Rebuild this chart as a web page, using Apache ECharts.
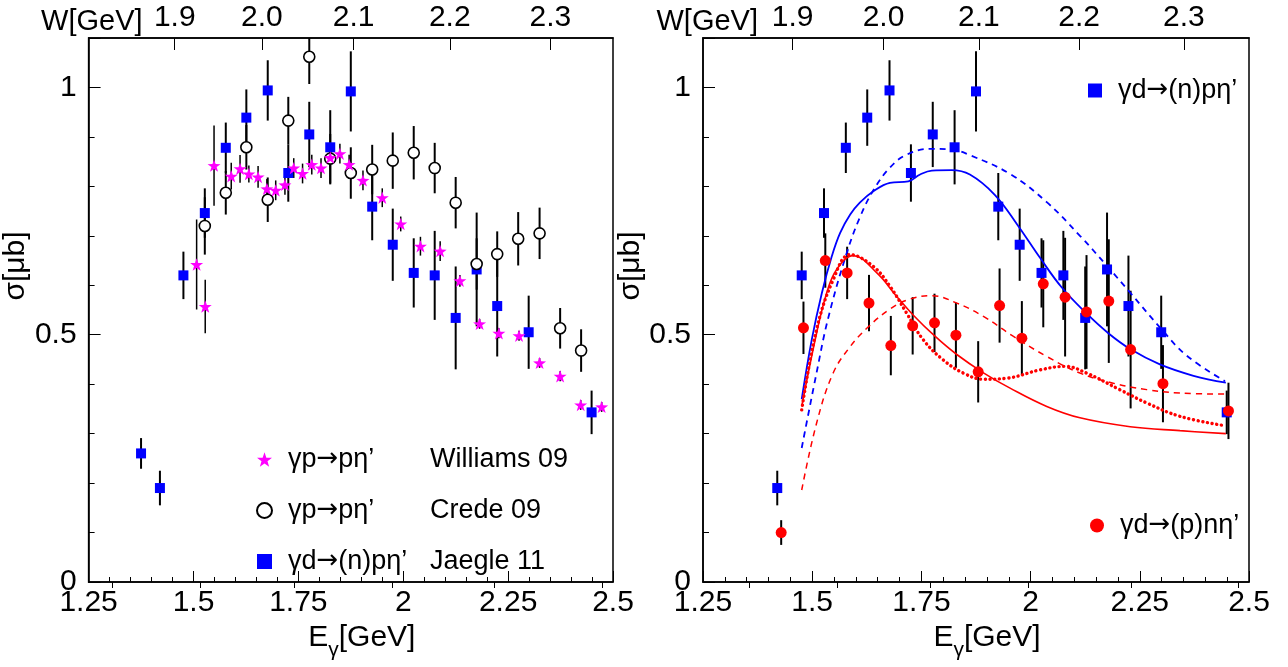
<!DOCTYPE html>
<html><head><meta charset="utf-8">
<script src="https://cdn.jsdelivr.net/npm/echarts@6/dist/echarts.min.js"></script>
<style>html,body{margin:0;padding:0;background:#fff}#c{width:1288px;height:667px}</style>
</head><body><div id="c"></div>
<script>
// proton mass (GeV) used to convert photon energy E to W for the top axis
const MP = 0.938;
// top axis tick values in W (GeV)
const wMajor = [1.9, 2.0, 2.1, 2.2, 2.3];
const wMinor = [1.85, 1.95, 2.05, 2.15, 2.25, 2.35];

// Williams 09  (gamma p -> p eta')
const williamsE = [1.5075,1.528,1.549,1.590,1.611,1.632,1.654,1.675,1.696,1.718,1.739,1.760,1.782,1.804,1.826,1.849,1.871,1.904,1.950,1.994,2.041,2.088,2.135,2.182,2.228,2.276,2.325,2.374,2.423,2.473];
const williamsS = [0.642,0.557,0.842,0.8205,0.8355,0.825,0.819,0.795,0.792,0.803,0.837,0.826,0.844,0.837,0.858,0.866,0.844,0.812,0.777,0.724,0.679,0.669,0.609,0.522,0.503,0.498,0.443,0.416,0.358,0.354];
const williamsErr = [0.091,0.054,0.081,0.027,0.028,0.017,0.022,0.02,0.02,0.02,0.02,0.02,0.02,0.02,0.02,0.02,0.02,0.02,0.019,0.015,0.019,0.02,0.012,0.01,0.01,0.01,0.01,0.01,0.01,0.01];

// Crede 09 (gamma p -> p eta')
const credeE = [1.527,1.577,1.626,1.677,1.726,1.776,1.826,1.875,1.926,1.975,2.025,2.075,2.125,2.175,2.224,2.274,2.325,2.374,2.424];
const credeS = [0.720,0.787,0.879,0.773,0.933,1.062,0.856,0.827,0.834,0.852,0.868,0.837,0.767,0.643,0.663,0.694,0.705,0.513,0.468];
const credeErr = [0.058,0.044,0.045,0.045,0.048,0.055,0.05,0.052,0.05,0.057,0.054,0.051,0.052,0.052,0.046,0.054,0.052,0.041,0.043];

// Jaegle 11 (gamma d -> (n) p eta')
const jaegleE = [1.375,1.42,1.476,1.527,1.577,1.626,1.677,1.726,1.776,1.826,1.875,1.926,1.975,2.025,2.075,2.125,2.175,2.224,2.299,2.449];
const jaegleS = [0.26,0.19,0.620,0.746,0.878,0.939,0.994,0.827,0.905,0.879,0.992,0.759,0.682,0.625,0.620,0.534,0.632,0.558,0.505,0.343];
const jaegleErr = [0.031,0.035,0.048,0.050,0.051,0.057,0.061,0.058,0.066,0.075,0.081,0.068,0.073,0.070,0.090,0.104,0.115,0.102,0.074,0.044];

// gamma d -> (p) n eta'
const neutronE = [1.429,1.480,1.530,1.580,1.630,1.680,1.730,1.780,1.829,1.880,1.929,1.980,2.029,2.079,2.128,2.179,2.229,2.303,2.453];
const neutronS = [0.100,0.514,0.650,0.625,0.564,0.478,0.518,0.524,0.499,0.425,0.559,0.493,0.603,0.576,0.546,0.568,0.470,0.401,0.346];
const neutronErr = [0.025,0.053,0.055,0.053,0.057,0.060,0.058,0.059,0.066,0.062,0.075,0.075,0.088,0.120,0.115,0.125,0.119,0.078,0.057];

// model curves (right panel)
const blueSolidE = [1.476,1.499,1.522,1.545,1.564,1.587,1.609,1.640,1.678,1.720,1.747,1.774,1.819,1.861,1.918,1.970,2.022,2.071,2.128,2.178,2.228,2.296,2.373,2.447];
const blueSolidS = [0.370,0.490,0.584,0.659,0.706,0.743,0.767,0.790,0.807,0.810,0.824,0.832,0.833,0.824,0.783,0.722,0.655,0.596,0.543,0.503,0.471,0.440,0.417,0.403];
const blueDashE = [1.476,1.510,1.537,1.579,1.609,1.640,1.678,1.716,1.770,1.815,1.861,1.953,2.037,2.113,2.174,2.228,2.296,2.357,2.445];
const blueDashS = [0.271,0.423,0.535,0.665,0.737,0.792,0.838,0.864,0.876,0.875,0.863,0.825,0.768,0.700,0.640,0.585,0.515,0.458,0.406];
const redSolidE = [1.476,1.510,1.533,1.556,1.594,1.648,1.693,1.731,1.781,1.831,1.892,1.953,2.037,2.113,2.228,2.342,2.447];
const redSolidS = [0.355,0.503,0.584,0.632,0.660,0.625,0.578,0.540,0.497,0.460,0.423,0.392,0.355,0.332,0.314,0.306,0.300];
const redDotE = [1.476,1.510,1.548,1.587,1.640,1.678,1.716,1.754,1.800,1.846,1.892,1.945,2.022,2.079,2.128,2.204,2.266,2.342,2.445];
const redDotS = [0.348,0.510,0.611,0.662,0.638,0.598,0.544,0.490,0.449,0.4225,0.410,0.412,0.429,0.436,0.4225,0.389,0.362,0.335,0.316];
const redDashE = [1.476,1.510,1.548,1.587,1.625,1.678,1.724,1.774,1.831,1.892,1.960,2.037,2.113,2.189,2.266,2.342,2.447];
const redDashS = [0.186,0.321,0.4225,0.476,0.513,0.552,0.572,0.579,0.564,0.537,0.497,0.456,0.4225,0.402,0.389,0.382,0.380];

// legend texts
const leftLegendNames = ['Williams 09', 'Crede 09', 'Jaegle 11'];
const leftLegendReactions = ['γp→pη’', 'γp→pη’', 'γd→(n)pη’'];
const rightBlueName = 'γd→(n)pη’';
const rightRedName = 'γd→(p)nη’';

const FONT = 'Liberation Sans, Arial, Helvetica, sans-serif';
const ARROW_FONT = 'DejaVu Sans';
const LEG_SIZE = 27, ARROW_SIZE = 26, REACTION_COL = 142, LEG_PAD = 11;
const STAR = 'path://M0,-10 L2.35,-3.24 L9.51,-3.09 L3.8,1.24 L5.88,8.09 L0,4 L-5.88,8.09 L-3.8,1.24 L-9.51,-3.09 L-2.35,-3.24 Z';
const wToE = w => (w * w - MP * MP) / (2 * MP);
const eToW = e => Math.sqrt(MP * MP + 2 * MP * e);

// text measuring (to align the second legend column)
const mctx = document.createElement('canvas').getContext('2d');
function textW(t, size, fam) { mctx.font = size + 'px ' + fam; return mctx.measureText(t).width; }
function reactionWidth(s) {
  const parts = s.split('→');
  let w = 0;
  parts.forEach((p, i) => { w += textW(p, LEG_SIZE, FONT); if (i) w += textW('→', ARROW_SIZE, ARROW_FONT); });
  return w;
}
// reaction text as rich tokens: arrow drawn with DejaVu Sans (narrow, centred arrow)
const reactionRich = s => s.split('→').map((p, i) => (i ? '{r|→}' : '') + '{' + (i === 0 ? 'f' : 't') + '|' + p + '}').join('');

function errBars(xi, yi, E, S, Err, lw) {
  return {
    type: 'custom', xAxisIndex: xi, yAxisIndex: yi, silent: true, z: 2, clip: true,
    data: E.map((e, i) => [e, S[i], Err[i]]),
    encode: { x: 0, y: 1 },
    renderItem: (params, api) => {
      const x = api.value(0), y = api.value(1), er = api.value(2);
      const p1 = api.coord([x, y - er]);
      const p2 = api.coord([x, y + er]);
      return { type: 'line', shape: { x1: p1[0], y1: p1[1], x2: p2[0], y2: p2[1] },
        style: { stroke: '#000', lineWidth: lw } };
    }
  };
}
function points(name, xi, yi, E, S, symbol, size, itemStyle) {
  return { type: 'scatter', name, xAxisIndex: xi, yAxisIndex: yi, z: 4,
    symbol, symbolSize: size, symbolKeepAspect: true, itemStyle: Object.assign({ opacity: 1 }, itemStyle),
    emphasis: { disabled: true },
    data: E.map((e, i) => [e, S[i]]) };
}
function curve(E, S, color, type, width) {
  return { type: 'line', xAxisIndex: 2, yAxisIndex: 1, z: 3, showSymbol: false, silent: true,
    smooth: 0.4,
    lineStyle: { color, type, width, cap: 'butt' },
    data: E.map((e, i) => [e, S[i]]) };
}
function dotted(E, S, color) {
  const s = curve(E, S, color, [0.1, 4.6], 3.4);
  s.lineStyle.cap = 'round';
  return s;
}

const gridL = { left: 66, top: 38, width: 547, height: 544 };
const gridR = { left: 703, top: 38, width: 546, height: 544 };
function grid(g) { return Object.assign({ show: true, borderColor: '#000', borderWidth: 1.5, backgroundColor: 'transparent' }, g); }

function bottomAxis(gi) {
  return { type: 'value', gridIndex: gi, position: 'bottom', min: 1.25, max: 2.5, interval: 0.25,
    axisLine: { show: true, lineStyle: { color: '#000', width: 1.5 } },
    axisTick: { show: true, inside: true, length: 11, lineStyle: { color: '#000', width: 1 } },
    minorTick: { show: true, splitNumber: 5, length: 5, lineStyle: { color: '#000', width: 1 } },
    splitLine: { show: false },
    axisLabel: { color: '#000', fontSize: 30, fontFamily: FONT, margin: 6 },
    name: '{a|E}{s|γ}{a|[GeV]}', nameLocation: 'middle', nameGap: 34,
    nameTextStyle: { color: '#000', fontFamily: FONT, padding: [0, 0, 0, 22],
      rich: { a: { fontSize: 30, fontFamily: FONT, color: '#000', verticalAlign: 'top', lineHeight: 34 },
              s: { fontSize: 21, fontFamily: FONT, color: '#000', verticalAlign: 'top', lineHeight: 22, padding: [17, 0, 0, 0] } } } };
}
function topMajorAxis(gi, nameGap) {
  const vals = wMajor.map(wToE);
  return { type: 'value', gridIndex: gi, position: 'top', min: 1.25, max: 2.5,
    axisLine: { show: true, lineStyle: { color: '#000', width: 1.5 } },
    axisTick: { show: true, inside: true, length: 12, customValues: vals, lineStyle: { color: '#000', width: 1 } },
    splitLine: { show: false },
    axisLabel: { show: true, customValues: vals, color: '#000', fontSize: 30, fontFamily: FONT, margin: 5,
      formatter: v => eToW(v).toFixed(1) },
    name: 'W[GeV]', nameLocation: 'start', nameGap: nameGap,
    nameTextStyle: { color: '#000', fontSize: 29, fontFamily: FONT, align: 'right', verticalAlign: 'bottom', padding: [0, 0, 2, 0] } };
}
function topMinorAxis(gi) {
  const vals = wMinor.map(wToE);
  return { type: 'value', gridIndex: gi, position: 'top', min: 1.25, max: 2.5,
    axisLine: { show: false },
    axisTick: { show: true, inside: true, length: 6, customValues: vals, lineStyle: { color: '#000', width: 1 } },
    axisLabel: { show: false }, splitLine: { show: false } };
}
function leftAxis(gi) {
  return { type: 'value', gridIndex: gi, min: 0, max: 1.1, interval: 0.5,
    axisLine: { show: true, lineStyle: { color: '#000', width: 1.5 } },
    axisTick: { show: true, inside: true, length: 12, lineStyle: { color: '#000', width: 1 } },
    minorTick: { show: true, splitNumber: 5, length: 6, lineStyle: { color: '#000', width: 1 } },
    splitLine: { show: false },
    axisLabel: { color: '#000', fontSize: 30, fontFamily: FONT, margin: 12, showMaxLabel: false,
      formatter: v => (Math.abs(v * 2 - Math.round(v * 2)) < 1e-6 ? String(v) : '') },
    name: 'σ[μb]', nameLocation: 'middle', nameRotate: 90, nameGap: 30,
    nameTextStyle: { color: '#000', fontSize: 30, fontFamily: FONT, padding: [0, 0, 0, 88] } };
}
function hiddenY(gi) { return { type: 'value', gridIndex: gi, min: 0, max: 1.1, show: false }; }

const blue = '#0000ff', red = '#ff0000', magenta = '#ff00ff';
const legendText = { color: '#000', fontSize: LEG_SIZE, fontFamily: FONT };
const legendRich = {
  f: Object.assign({}, legendText, { padding: [0, 0, 0, LEG_PAD] }),
  t: Object.assign({}, legendText),
  r: Object.assign({}, legendText, { fontFamily: ARROW_FONT, fontSize: ARROW_SIZE }),
  b: Object.assign({}, legendText)
};
// spacer tokens so that the reference names start in a common column
const leftRich = Object.assign({}, legendRich);
leftLegendReactions.forEach((r, i) => {
  leftRich['c' + i] = { width: Math.max(1, REACTION_COL - reactionWidth(r)), fontSize: LEG_SIZE };
});

const option = {
  animation: false,
  backgroundColor: '#fff',
  grid: [grid(gridL), grid(gridR), grid(Object.assign({}, gridL, { show: false })), grid(Object.assign({}, gridR, { show: false }))],
  xAxis: [bottomAxis(0), topMajorAxis(0, -54), bottomAxis(1), topMajorAxis(1, -55), topMinorAxis(2), topMinorAxis(3)],
  yAxis: [leftAxis(0), leftAxis(1), hiddenY(2), hiddenY(3)],
  legend: [
    { orient: 'vertical', left: 251, top: 441, itemWidth: 15, itemHeight: 15, itemGap: 24,
      data: leftLegendNames, selectedMode: false,
      formatter: n => {
        const i = leftLegendNames.indexOf(n);
        return reactionRich(leftLegendReactions[i]) + '{c' + i + '| }' + '{b|' + n + '}';
      },
      textStyle: Object.assign({}, legendText, { rich: leftRich }) },
    { orient: 'vertical', left: 1083, top: 72, itemWidth: 14, itemHeight: 14, selectedMode: false,
      data: [rightBlueName],
      formatter: n => reactionRich(n),
      textStyle: Object.assign({}, legendText, { rich: legendRich }) },
    { orient: 'vertical', left: 1085, top: 507, itemWidth: 14, itemHeight: 14, selectedMode: false,
      data: [rightRedName],
      formatter: n => reactionRich(n),
      textStyle: Object.assign({}, legendText, { rich: legendRich }) }
  ],
  series: [
    // left panel
    errBars(0, 0, jaegleE, jaegleS, jaegleErr, 2),
    errBars(0, 0, credeE, credeS, credeErr, 2),
    errBars(0, 0, williamsE, williamsS, williamsErr, 1.5),
    points('Jaegle 11', 0, 0, jaegleE, jaegleS, 'rect', 10, { color: blue }),
    points('Crede 09', 0, 0, credeE, credeS, 'circle', 11, { color: '#fff', borderColor: '#000', borderWidth: 1.6 }),
    points('Williams 09', 0, 0, williamsE, williamsS, STAR, 13, { color: magenta }),
    // right panel
    curve(blueSolidE, blueSolidS, blue, 'solid', 1.8),
    curve(blueDashE, blueDashS, blue, [6, 5], 1.8),
    curve(redSolidE, redSolidS, red, 'solid', 1.6),
    curve(redDashE, redDashS, red, [6, 5], 1.5),
    dotted(redDotE, redDotS, red),
    errBars(2, 1, jaegleE.slice(1), jaegleS.slice(1), jaegleErr.slice(1), 2),
    errBars(2, 1, neutronE, neutronS, neutronErr, 2),
    points(rightBlueName, 2, 1, jaegleE.slice(1), jaegleS.slice(1), 'rect', 10, { color: blue }),
    points(rightRedName, 2, 1, neutronE, neutronS, 'circle', 11, { color: red })
  ]
};
const chart = echarts.init(document.getElementById('c'), null, { renderer: 'canvas' });
chart.setOption(option);
</script>
</body></html>
